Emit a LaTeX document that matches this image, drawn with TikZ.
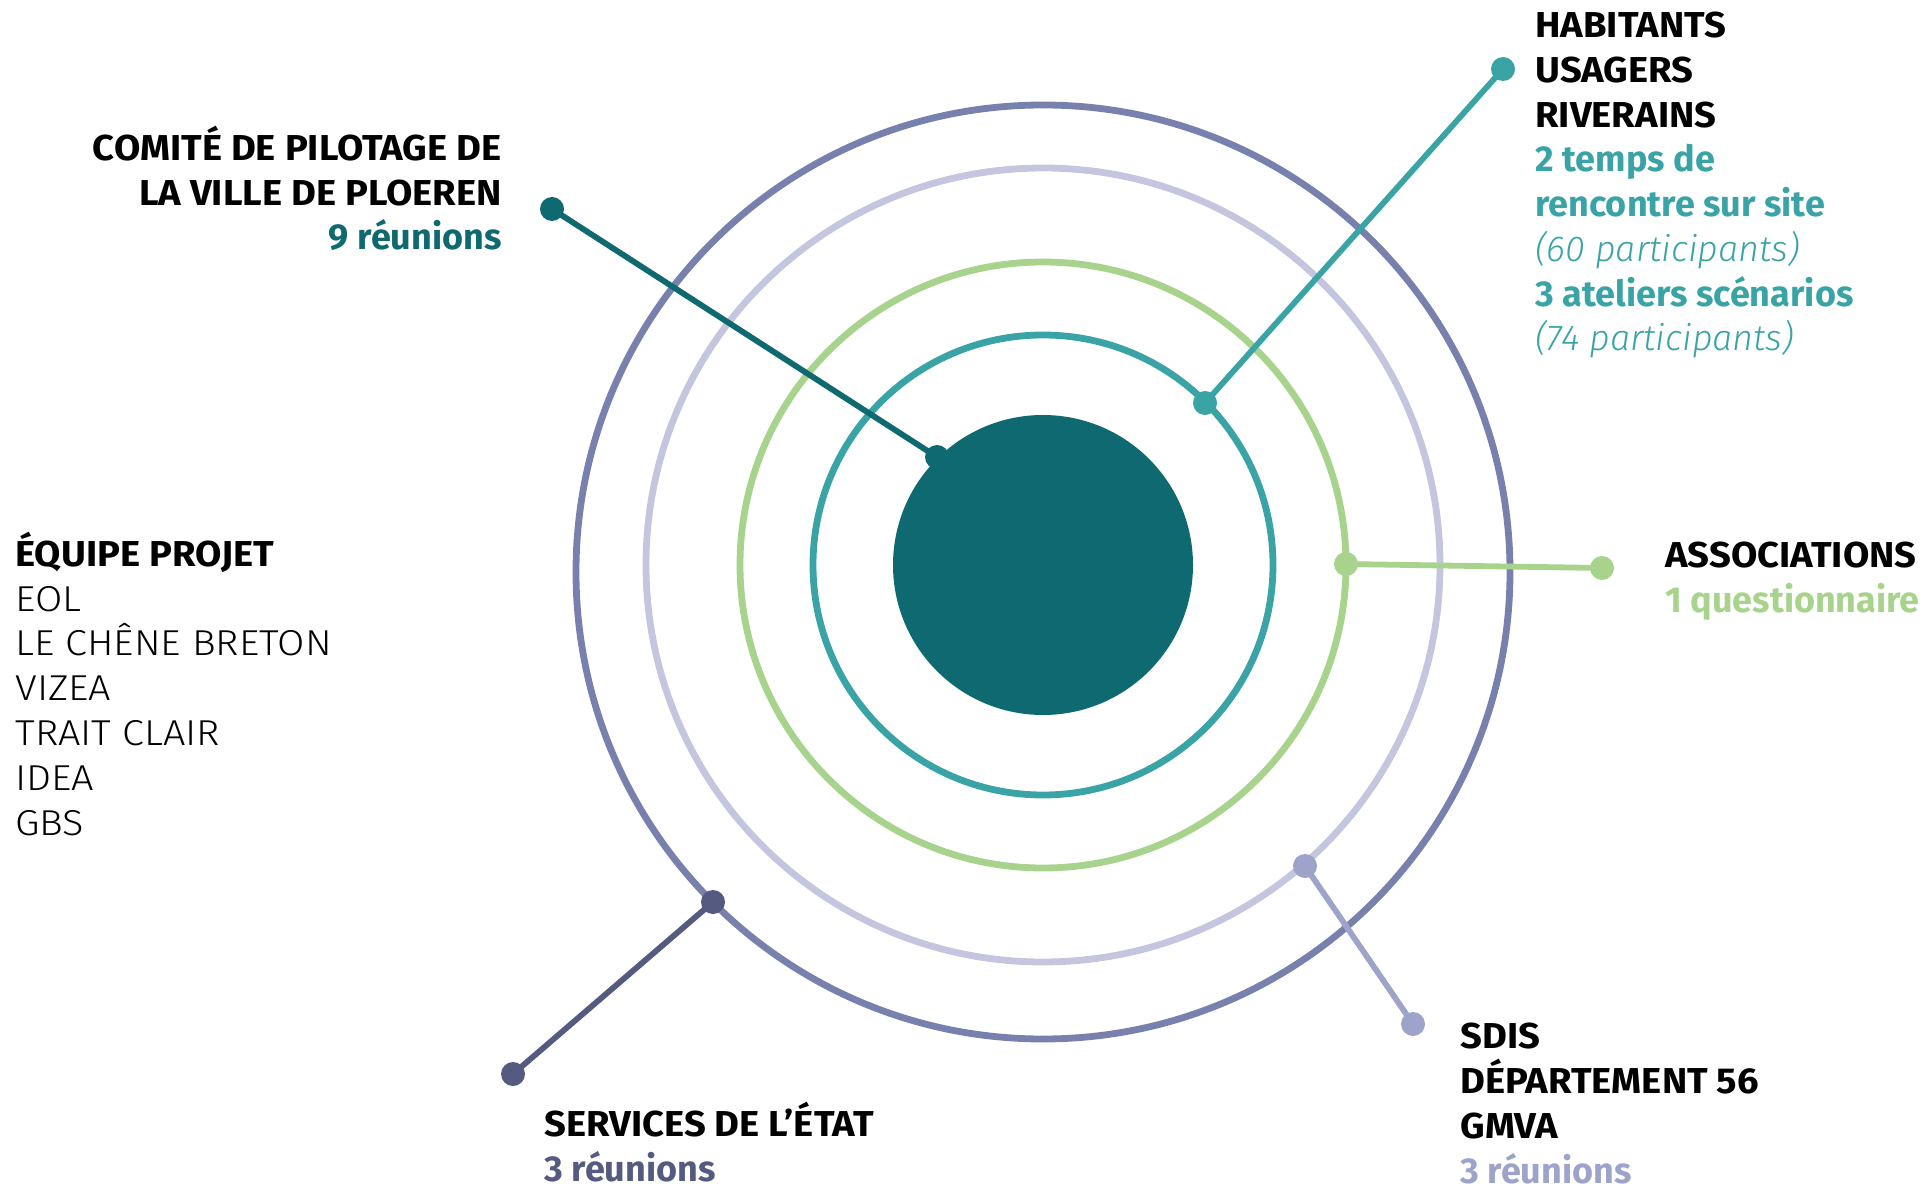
\documentclass[tikz,border=0pt]{standalone}
\usepackage{fontspec}
\setmainfont{Fira Sans}[FakeStretch=1.06]
\newfontfamily\plainfont{Fira Sans}
\newfontfamily\lightfont{Fira Sans Light}[UprightFeatures={FakeStretch=1.1}]
\usepackage{tikz}
\usetikzlibrary{positioning}

\definecolor{coeur}{HTML}{0E6970}
\definecolor{sarcelle}{HTML}{3AA3A6}
\definecolor{vert}{HTML}{A8D38D}
\definecolor{lavande}{HTML}{C4C5DE}
\definecolor{ardoise}{HTML}{7880AE}
\definecolor{etat}{HTML}{545A80}
\definecolor{pervenche}{HTML}{9DA3C9}

\newcommand\titre[1]{{\bfseries #1}}
\newcommand\chiffre[1]{{\plainfont\bfseries #1}}
\newcommand\fin[1]{{\lightfont #1}}

\begin{document}
\begin{tikzpicture}[x=0.5pt, y=-0.5pt,
    ring/.style={line width=3.4pt},
    link/.style={line width=2.9pt},
    dot/.style={circle, fill=#1, inner sep=0pt, minimum size=12pt},
    bloc/.style={inner sep=0pt, font=\fontsize{18}{22.4}\selectfont}]
  \useasboundingbox (0,0) rectangle (1928,1187);

  % Concentric rings around the core
  \node[circle, fill=coeur, inner sep=0pt, minimum size=150pt] (coeur) at (1043,565) {};
  \draw[ring, sarcelle] (coeur.center) circle[radius=115pt];
  \draw[ring, vert] (coeur.center) circle[radius=151.5pt];
  \draw[ring, lavande] (coeur.center) circle[radius=198.5pt];
  \draw[ring, ardoise] (1043,572) circle[radius=233.5pt];

  % End points of the connectors
  \node[dot=coeur] (comite-in) at (937,457) {};
  \node[dot=coeur] (comite-out) at (552,209) {};
  \node[dot=sarcelle] (habitants-in) at (1205,403) {};
  \node[dot=sarcelle] (habitants-out) at (1503,69) {};
  \node[dot=vert] (assoc-in) at (1346,564) {};
  \node[dot=vert] (assoc-out) at (1602,568) {};
  \node[dot=etat] (etat-in) at (713,902) {};
  \node[dot=etat] (etat-out) at (513,1074) {};
  \node[dot=pervenche] (sdis-in) at (1305,866) {};
  \node[dot=pervenche] (sdis-out) at (1413,1024) {};

  % Connectors
  \draw[link, coeur] (comite-in.center) -- (comite-out.center);
  \draw[link, sarcelle] (habitants-in.center) -- (habitants-out.center);
  \draw[link, vert] (assoc-in.center) -- (assoc-out.center);
  \draw[link, etat] (etat-in.center) -- (etat-out.center);
  \draw[link, pervenche] (sdis-in.center) -- (sdis-out.center);

  % Labels (anchored on the baseline of their last line)
  \node[bloc, anchor=base east, align=right] (comite) at (502,250)
    {\titre{COMITÉ DE PILOTAGE DE}\\\titre{LA VILLE DE PLOEREN}\\\textcolor{coeur}{\chiffre{9 réunions}}};
  \node[bloc, anchor=base west, align=left] (habitants) at (1535,351)
    {\titre{HABITANTS}\\\titre{USAGERS}\\\titre{RIVERAINS}\\
     \textcolor{sarcelle}{\chiffre{2 temps de}}\\\textcolor{sarcelle}{\chiffre{rencontre sur site}}\\
     \textcolor{sarcelle}{\fin{\itshape (60 participants)}}\\
     \textcolor{sarcelle}{\chiffre{3 ateliers scénarios}}\\
     \textcolor{sarcelle}{\fin{\itshape (74 participants)}}};
  \node[bloc, anchor=base west, align=left] (assoc) at (1665,612)
    {\titre{ASSOCIATIONS}\\\textcolor{vert}{\chiffre{1 questionnaire}}};
  \node[bloc, anchor=base west, align=left] (equipe) at (15,835)
    {\titre{ÉQUIPE PROJET}\\\fin{EOL}\\\fin{LE CHÊNE BRETON}\\\fin{VIZEA}\\\fin{TRAIT CLAIR}\\\fin{IDEA}\\\fin{GBS}};
  \node[bloc, anchor=base west, align=left] (etat) at (544,1181)
    {\titre{SERVICES DE L’ÉTAT}\\\textcolor{etat}{\chiffre{3 réunions}}};
  \node[bloc, anchor=base west, align=left] (sdis) at (1460,1183)
    {\titre{SDIS}\\\titre{DÉPARTEMENT 56}\\\titre{GMVA}\\\textcolor{pervenche}{\chiffre{3 réunions}}};
\end{tikzpicture}
\end{document}
